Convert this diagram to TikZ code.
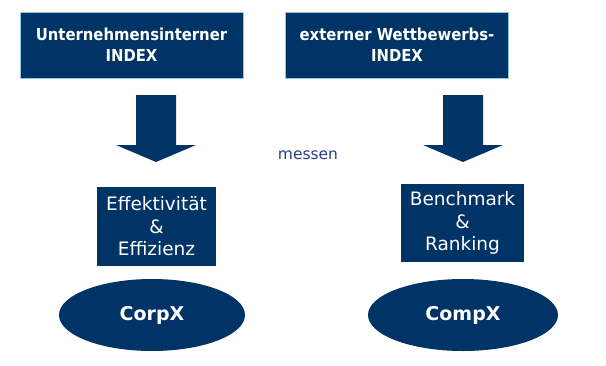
\documentclass[tikz,border=0pt]{standalone}
\usepackage{fontspec}
\setmainfont{DejaVu Sans}
\newfontfamily\condfont{DejaVu Sans Condensed}
\usepackage{tikz}
\usetikzlibrary{shapes.geometric}

\definecolor{navy}{HTML}{003466}
\definecolor{edgeblue}{RGB}{150,196,218}
\definecolor{textblue}{RGB}{40,62,132}

\tikzset{
	indexbox/.style={fill=navy, draw=edgeblue, line width=1pt, text=white, align=center,
		minimum width=223, minimum height=66, inner sep=0pt,
		font=\condfont\bfseries\fontsize{16.5}{21}\selectfont},
	goalbox/.style={fill=navy, text=white, align=center, inner sep=0pt,
		font=\fontsize{18.5}{22.5}\selectfont},
	firm/.style={ellipse, fill=navy, text=white, inner sep=0pt,
		font=\bfseries\fontsize{19}{22}\selectfont}
}

\begin{document}
\begin{tikzpicture}[x=1pt, y=-1pt]
	
	\useasboundingbox (0,0) rectangle (606,365);
	
	% Level 0
	\node [indexbox] (intern) at (131.5,45) {Unternehmensinterner\\INDEX};
	\node [indexbox] (extern) at (397,45) {externer Wettbewerbs-\\INDEX};
	
	% Arrows
	\foreach \x in {156,463} {
		\fill [navy] (\x-20,95) -- (\x+20,95) -- (\x+20,145) -- (\x+40,145)
			-- (\x,162) -- (\x-40,145) -- (\x-20,145) -- cycle;
	}
	
	\node [text=textblue, font=\fontsize{15.5}{18}\selectfont] (messen) at (308,155) {messen};
	
	% Level 1
	\node [goalbox, minimum width=119, minimum height=79] (effekt) at (156.5,226.5)
		{Effektivität\\\&\\Effizienz};
	\node [goalbox, minimum width=123, minimum height=78] (bench) at (462.5,223)
		{Benchmark\\\&\\Ranking};
	
	% Level 2
	\node [firm, minimum width=186, minimum height=72] (corp) at (152,315) {CorpX};
	\node [firm, minimum width=190, minimum height=72] (comp) at (463,315) {CompX};
	
\end{tikzpicture}
\end{document}
